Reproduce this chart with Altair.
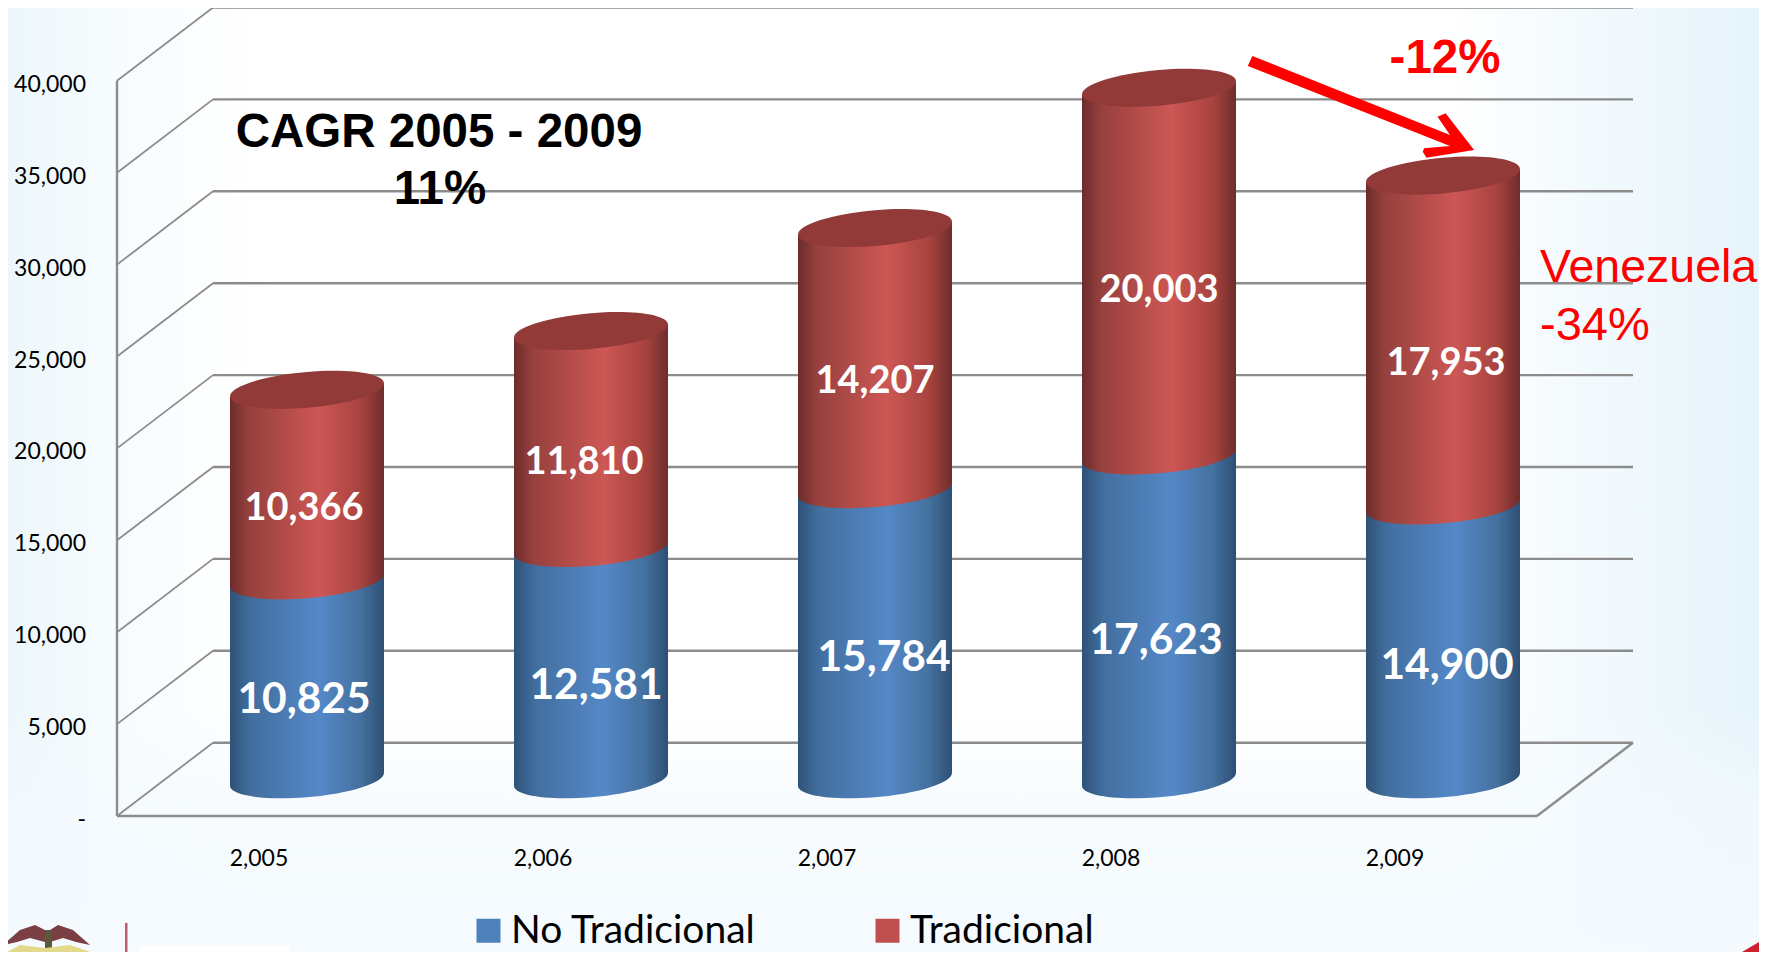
import altair as alt
import pandas as pd

# ---- values ----
YEARS = [2005, 2006, 2007, 2008, 2009]
YEAR_LABELS = ["2,005", "2,006", "2,007", "2,008", "2,009"]
NO_TRADICIONAL = [10825, 12581, 15784, 17623, 14900]
TRADICIONAL = [10366, 11810, 14207, 20003, 17953]
Y_TICKS = [0, 5000, 10000, 15000, 20000, 25000, 30000, 35000, 40000]
Y_LABELS = ["-\u00a0\u00a0", "5,000", "10,000", "15,000", "20,000", "25,000", "30,000", "35,000", "40,000"]
SERIES = ["No Tradicional", "Tradicional"]

# ---- layout (style only) ----
W, H = 1751, 944
PX_YEAR = 284.0
PX_VALUE = 91.9 / 5000
X_DOMAIN = [2005 - 251 / PX_YEAR, 2005 + (W - 251) / PX_YEAR]
Y_DOMAIN = [-(H - 808) / PX_VALUE, 808 / PX_VALUE]
DEPTH_X_PX, DEPTH_Y_PX = 96.0, 73.3
DX = DEPTH_X_PX / PX_YEAR
DY = DEPTH_Y_PX / PX_VALUE
MID = dict(xOffset=DEPTH_X_PX / 2, yOffset=-DEPTH_Y_PX / 2)
CYL_W = 154
TILT_PX = 6.5
FLOOR_L, FLOOR_R = YEARS[0] - 0.5, YEARS[-1] + 0.5

xs = alt.Scale(domain=X_DOMAIN, nice=False, zero=False, padding=0)
ys = alt.Scale(domain=Y_DOMAIN, nice=False, zero=False, padding=0)
GREY = "#8c8c8c"
LATO = "Lato"
ARIAL = "Liberation Sans"
RED = "#ff0000"


def grad(stops, x1=0, x2=1, y1=0, y2=0):
    return alt.LinearGradient(
        gradient="linear",
        x1=x1, x2=x2, y1=y1, y2=y2,
        stops=[alt.GradientStop(offset=o, color=c) for o, c in stops],
    )


RED_G = grad([(0, "#6b2c2b"), (0.12, "#96403d"), (0.58, "#cd5754"), (0.85, "#a8433f"), (1, "#6f2d2b")])
BLUE_G = grad([(0, "#2e5278"), (0.14, "#426f9f"), (0.58, "#5588c8"), (0.85, "#44719f"), (1, "#2d4f75")])

# tilted ellipse, unit half-width
ELLIPSE = (
    "M1,-0.084 C1,0.044 0.552,0.186 0,0.232 "
    "C-0.552,0.278 -1,0.212 -1,0.084 "
    "C-1,-0.044 -0.552,-0.186 0,-0.232 "
    "C0.552,-0.278 1,-0.212 1,-0.084 Z"
)


def poly(points, ax, ay, s=100.0):
    p = [f"{(x - ax) / s:.4f},{(y - ay) / s:.4f}" for x, y in points]
    return "M" + " L".join(p) + " Z"


def shape_layer(points, color, page_anchor):
    ax, ay = page_anchor
    return alt.Chart(one).mark_point(
        filled=True, shape=poly(points, ax, ay), size=40000, color=color, opacity=1, strokeWidth=0
    ).encode(x=alt.value(ax - 8), y=alt.value(ay - 8))


one = pd.DataFrame({"a": [0]})
bars = pd.DataFrame({"year": YEARS, "nt": NO_TRADICIONAL, "t": TRADICIONAL})
bars["zero"] = 0
bars["total"] = bars["nt"] + bars["t"]

X = alt.X("year:Q", scale=xs, axis=None)
layers = []

ticks = pd.DataFrame({"v": Y_TICKS, "label": Y_LABELS})
ticks["xa"] = FLOOR_L
ticks["xb"] = FLOOR_L + DX
ticks["xc"] = FLOOR_R + DX
ticks["vb"] = ticks["v"] + DY

# ---- page tint ----
layers.append(
    alt.Chart(one).mark_rect(
        color=grad([(0, "#edf7fb"), (0.07, "#f8fcfe"), (0.15, "#ffffff"), (0.82, "#ffffff"), (0.9, "#f3fafd"), (1, "#e6f4fb")])
    ).encode(x=alt.value(0), x2=alt.value(W), y=alt.value(0), y2=alt.value(H))
)
layers.append(
    alt.Chart(one).mark_rect(
        color=grad([(0, "rgba(244,250,254,0)"), (0.4, "rgba(244,250,254,0.7)"), (1, "rgba(244,250,254,1)")], x1=0, x2=0, y1=0, y2=1)
    ).encode(x=alt.value(0), x2=alt.value(W), y=alt.value(700), y2=alt.value(H))
)

# ---- walls ----
layers.append(
    alt.Chart(ticks).mark_rule(color=GREY, strokeWidth=2.4).encode(
        x=alt.X("xb:Q", scale=xs, axis=None), x2="xc:Q",
        y=alt.Y("vb:Q", scale=ys, axis=None),
    )
)
layers.append(
    alt.Chart(ticks).mark_rule(color=GREY, strokeWidth=1.8).encode(
        x=alt.X("xa:Q", scale=xs, axis=None), x2="xb:Q",
        y=alt.Y("v:Q", scale=ys, axis=None), y2="vb:Q",
    )
)
frame = pd.DataFrame(
    {
        "x1": [FLOOR_L, FLOOR_L, FLOOR_R],
        "x2": [FLOOR_L, FLOOR_R, FLOOR_R + DX],
        "y1": [0, 0, 0],
        "y2": [Y_TICKS[-1], 0, DY],
    }
)
layers.append(
    alt.Chart(frame).mark_rule(color=GREY, strokeWidth=2.4).encode(
        x=alt.X("x1:Q", scale=xs, axis=None), x2="x2:Q",
        y=alt.Y("y1:Q", scale=ys, axis=None), y2="y2:Q",
    )
)

# ---- tick labels ----
layers.append(
    alt.Chart(ticks).mark_text(
        font=LATO, fontSize=23, color="#000000", align="right", baseline="middle", dx=-31, dy=4
    ).encode(x=alt.X("xa:Q", scale=xs, axis=None), y=alt.Y("v:Q", scale=ys, axis=None), text="label:N")
)
year_ticks = pd.DataFrame({"year": YEARS, "label": YEAR_LABELS, "zero": 0})
layers.append(
    alt.Chart(year_ticks).mark_text(
        font=LATO, fontSize=23, color="#000000", align="center", baseline="middle", dy=43
    ).encode(x=X, y=alt.Y("zero:Q", scale=ys, axis=None), text="label:N")
)


# ---- cylinders ----
def ell(field, color):
    return alt.Chart(bars).mark_point(
        filled=True, shape=ELLIPSE, size=CYL_W ** 2, color=color, opacity=1, strokeWidth=0, **MID
    ).encode(x=X, y=alt.Y(f"{field}:Q", scale=ys, axis=None))


def body(lo, hi, color):
    """Side of a cylinder: a slanted band running between the tips of its two end ellipses."""
    half = (CYL_W / 2) / PX_YEAR
    tilt = TILT_PX / PX_VALUE
    cx = (DEPTH_X_PX / 2) / PX_YEAR
    cy = (DEPTH_Y_PX / 2) / PX_VALUE
    rows = []
    for _, r in bars.iterrows():
        for side in (-1, 1):
            rows.append(
                {
                    "year": r["year"],
                    "xs": r["year"] + cx + side * half,
                    "lo": r[lo] + cy + side * tilt,
                    "hi": r[hi] + cy + side * tilt,
                }
            )
    return alt.Chart(pd.DataFrame(rows)).mark_area(color=color, opacity=1, orient="vertical", line=False).encode(
        x=alt.X("xs:Q", scale=xs, axis=None),
        y=alt.Y("lo:Q", scale=ys, axis=None),
        y2="hi:Q",
        detail="year:N",
    )


layers += [
    ell("zero", BLUE_G),
    body("zero", "nt", BLUE_G),
    body("nt", "total", RED_G),
    ell("nt", RED_G),
    ell("total", "#913a38"),
]

# ---- value labels: hand placed in the original, hence the nudges ----
NT_NUDGE = [(-3, 18), (5, 20), (9, 21), (-3, 21), (4, 21)]
T_NUDGE = [(-3, 21), (-7, 21), (0, 21), (0, 17), (3, 21)]
for i, y in enumerate(YEARS):
    nt, t = NO_TRADICIONAL[i], TRADICIONAL[i]
    for value, mid, (dx, dy), fs in (
        (nt, nt / 2, NT_NUDGE[i], 42.5),
        (t, nt + t / 2, T_NUDGE[i], 38),
    ):
        row = pd.DataFrame({"year": [y], "mid": [mid], "label": [f"{value:,}"]})
        layers.append(
            alt.Chart(row).mark_text(
                font=LATO, fontWeight="bold", fontSize=fs, color="#ffffff", align="center", baseline="middle",
                dx=dx + DEPTH_X_PX / 2, dy=dy + 2.5 - DEPTH_Y_PX / 2,
            ).encode(x=X, y=alt.Y("mid:Q", scale=ys, axis=None), text="label:N")
        )


# ---- annotations ----
def note(text, x, y, weight, align="center", size=47.5, color="#000000"):
    return alt.Chart(one).mark_text(
        font=ARIAL, fontWeight=weight, fontSize=size, color=color, align=align, baseline="alphabetic"
    ).encode(x=alt.value(x - 8), y=alt.value(y - 8), text=alt.value(text))


layers += [
    note("CAGR 2005 - 2009", 439, 147, "bold"),
    note("11%", 440, 204, "bold"),
    note("-12%", 1445, 73, "bold", color=RED),
    note("Venezuela", 1540, 282, "normal", align="left", size=46.5, color=RED),
    note("-34%", 1540, 340, "normal", align="left", size=47, color=RED),
]

ARROW = [
    (1252.3, 56), (1450, 135), (1437.5, 116.7), (1445.6, 113.3), (1474.1, 150),
    (1426.4, 157.7), (1422.8, 151.7), (1424.1, 148.3), (1450, 146), (1247.8, 66),
]
layers.append(shape_layer(ARROW, RED, (1360, 105)))

# ---- logos at the foot of the slide ----
layers += [
    shape_layer([(3, 945), (20, 930), (35, 925), (45, 930), (45, 942), (30, 938), (17, 942)], "#7a3f42", (40, 940)),
    shape_layer([(90, 945), (73, 930), (58, 925), (50, 930), (50, 942), (63, 938), (76, 942)], "#7a3f42", (40, 940)),
    shape_layer([(45, 930), (52, 930), (52, 952), (45, 952)], "#5a5a3a", (40, 940)),
    shape_layer([(7, 952), (20, 945), (45, 948), (70, 945), (90, 952)], "#e3d98a", (40, 940)),
    shape_layer([(125, 923), (127.5, 923), (127.5, 952), (125, 952)], "#c25a6e", (130, 940)),
    shape_layer([(140, 946), (290, 946), (290, 952), (140, 952)], "#ffffff", (200, 950)),
    shape_layer([(1742, 952), (1759, 942), (1759, 952)], "#d0202f", (1750, 948)),
]

# ---- legend ----
legend_df = pd.DataFrame({"year": [YEARS[0]] * 2, "v": [0, 0], "serie": SERIES})
layers.append(
    alt.Chart(legend_df).mark_square(opacity=0).encode(
        x=X,
        y=alt.Y("v:Q", scale=ys, axis=None),
        color=alt.Color(
            "serie:N",
            scale=alt.Scale(domain=SERIES, range=["#4f81bd", "#c0504d"]),
            legend=alt.Legend(
                title=None, orient="none", legendX=461, legendY=903, direction="horizontal", columns=2,
                symbolType="square", symbolSize=576, symbolOpacity=1, symbolStrokeWidth=0,
                labelFont=LATO, labelFontSize=39, labelColor="#000000", labelLimit=400, labelOffset=3,
                columnPadding=112, padding=0,
            ),
        ),
    )
)

chart = (
    alt.layer(*layers)
    .properties(width=W, height=H, autosize=alt.AutoSizeParams(type="none"), padding=0)
    .configure_view(stroke=None)
    .configure(background="#ffffff")
)

chart.save("out.html", embed_options={"renderer": "svg", "actions": False})
